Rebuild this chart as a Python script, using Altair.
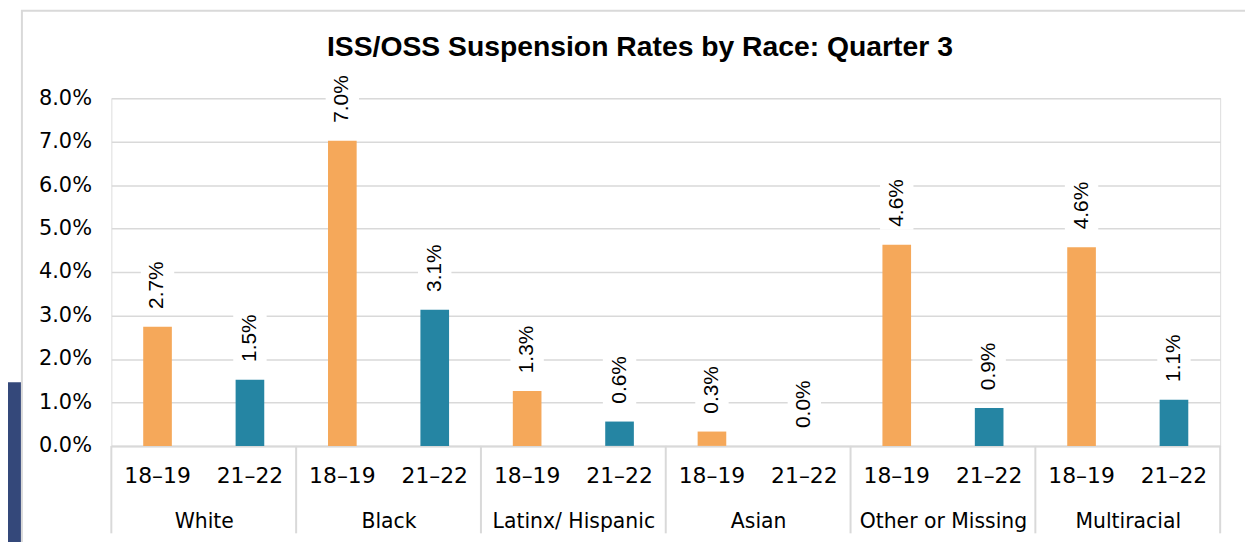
import altair as alt
import pandas as pd

# ---- data ----
groups = ["White", "Black", "Latinx/ Hispanic", "Asian", "Other or Missing", "Multiracial"]
periods = ["18\u201319", "21\u201322"]
rates_1819 = [0.0274, 0.0702, 0.0126, 0.0033, 0.0463, 0.0457]
rates_2122 = [0.0152, 0.0313, 0.0056, 0.0000, 0.0087, 0.0106]
y_ticks = [0.0, 0.01, 0.02, 0.03, 0.04, 0.05, 0.06, 0.07, 0.08]
title_text = "ISS/OSS Suspension Rates by Race: Quarter 3"

colors = ["#F5A85A", "#2585A3"]

rows = []
keys = []
for g, a, b in zip(groups, rates_1819, rates_2122):
    for p, v in zip(periods, [a, b]):
        k = f"{g}|{p}"
        keys.append(k)
        rows.append({"group": g, "period": p, "key": k, "rate": v})
df = pd.DataFrame(rows)
sep_df = pd.DataFrame({"b": list(range(len(groups) + 1))})
grp_df = pd.DataFrame({"group": groups})

W, H = 1116, 350

x_key = alt.X(
    "key:N",
    sort=keys,
    scale=alt.Scale(paddingInner=0, paddingOuter=0),
    axis=alt.Axis(
        orient="bottom",
        title=None,
        labelExpr="split(datum.label, '|')[1]",
        labelAngle=0,
        ticks=False,
        tickSize=0,
        domainColor="#D9D9D9",
        domainWidth=2,
        labelFont="DejaVu Sans",
        labelFontSize=22,
        labelColor="#000000",
        labelPadding=20,
    ),
)
y_rate = alt.Y(
    "rate:Q",
    scale=alt.Scale(domain=[0, 0.08], nice=False),
    axis=alt.Axis(
        title=None,
        values=y_ticks,
        format=".1%",
        domain=False,
        ticks=False,
        tickSize=0,
        labelPadding=20,
        labelFont="DejaVu Sans",
        labelFontSize=21,
        labelColor="#000000",
        gridColor="#D9D9D9",
        gridWidth=1.5,
    ),
)

bars = alt.Chart(df).mark_bar(width=alt.RelativeBandSize(0.31)).encode(
    x=x_key,
    y=y_rate,
    color=alt.Color("period:N", scale=alt.Scale(domain=periods, range=colors), legend=None),
)

label_bg = alt.Chart(df).mark_point(
    shape="M-0.6,-1H0.6V1H-0.6Z", size=3136, filled=True, color="white",
    opacity=1, strokeWidth=0, yOffset=-43,
).encode(x=alt.X("key:N", sort=keys), y=alt.Y("rate:Q"))

labels = alt.Chart(df).mark_text(
    angle=270, align="left", baseline="middle", dx=18,
    font="Liberation Sans", fontSize=21, color="#000000",
).encode(
    x=alt.X("key:N", sort=keys),
    y=alt.Y("rate:Q"),
    text=alt.Text("rate:Q", format=".1%"),
)

main = alt.layer(bars, label_bg, labels)

seps = alt.Chart(sep_df).mark_rule(color="#D9D9D9", strokeWidth=2).encode(
    x=alt.X("b:Q", scale=alt.Scale(domain=[0, len(groups)], nice=False, zero=False), axis=None),
    y=alt.value(H),
    y2=alt.value(H + 88),
)

grp = alt.Chart(grp_df).mark_point(opacity=0).encode(
    x=alt.X(
        "group:N",
        sort=groups,
        scale=alt.Scale(paddingInner=0, paddingOuter=0),
        axis=alt.Axis(
            orient="bottom",
            title=None,
            labelAngle=0,
            ticks=False,
            tickSize=0,
            domain=False,
            labelPadding=66,
            labelFont="DejaVu Sans",
            labelFontSize=20.5,
            labelColor="#000000",
        ),
    ),
    y=alt.value(0),
)

frame_src = pd.DataFrame({"a": [0]})
frame = alt.Chart(frame_src).mark_rect(fill=None, stroke="#D9D9D9", strokeWidth=2).encode(
    x=alt.value(-90), x2=alt.value(1250), y=alt.value(-88), y2=alt.value(700)
)
navy = alt.Chart(frame_src).mark_rect(color="#34487A").encode(
    x=alt.value(-110), x2=alt.value(-91), y=alt.value(286), y2=alt.value(700)
)

chart = alt.layer(frame, navy, seps, grp, main).resolve_scale(x="independent").properties(
    width=W,
    height=H,
    title=alt.Title(
        title_text, font="Liberation Sans", fontSize=28.5, fontWeight="bold",
        color="#000000", anchor="middle", dx=-26, offset=-75, baseline="alphabetic",
    ),
    autosize=alt.AutoSizeParams(type="none"),
    padding={"left": 104, "top": 89, "right": 25, "bottom": 95},
).configure_view(stroke=None).configure(background="white")

chart.save("out.html", embed_options={"renderer": "svg", "actions": False})
